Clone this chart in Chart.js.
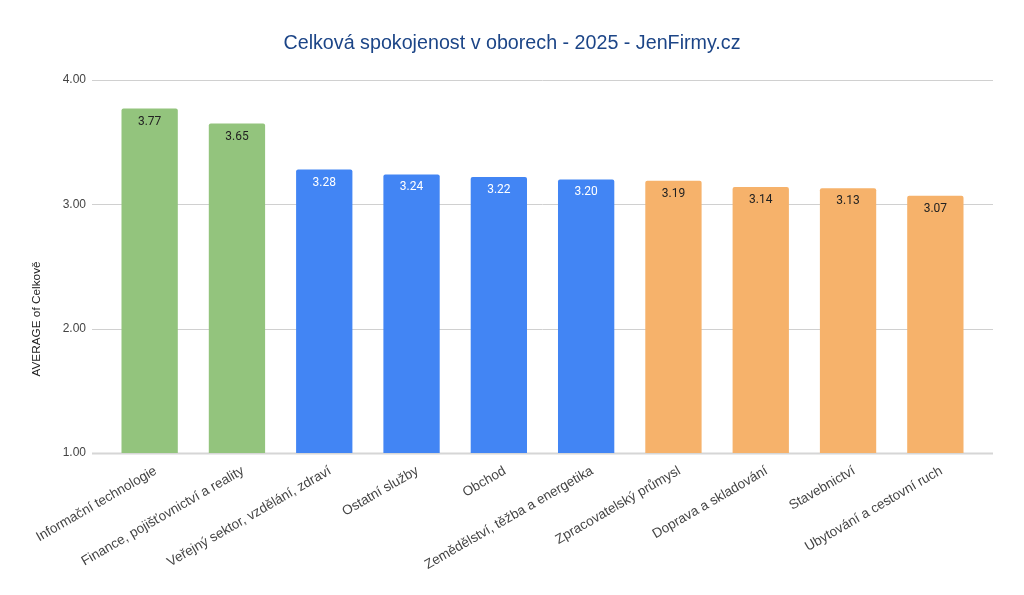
<!DOCTYPE html>
<html>
<head>
<meta charset="utf-8">
<script src="https://cdn.jsdelivr.net/npm/chart.js@4/dist/chart.umd.min.js"></script>
<style>
  html, body { margin: 0; padding: 0; background: #fff; }
  #wrap { width: 1024px; height: 595px; position: relative; }
</style>
</head>
<body>
<div id="wrap"><canvas id="chart"></canvas></div>
<script>
const titleText = 'Celková spokojenost v oborech - 2025 - JenFirmy.cz';
const yAxisTitle = 'AVERAGE of Celkově';

const categories = [
  'Informační technologie',
  'Finance, pojišťovnictví a reality',
  'Veřejný sektor, vzdělání, zdraví',
  'Ostatní služby',
  'Obchod',
  'Zemědělství, těžba a energetika',
  'Zpracovatelský průmysl',
  'Doprava a skladování',
  'Stavebnictví',
  'Ubytování a cestovní ruch',
];
const averages = [3.77, 3.65, 3.28, 3.24, 3.22, 3.20, 3.19, 3.14, 3.13, 3.07];
// group of each industry -> colour
const groups = ['top', 'top', 'mid', 'mid', 'mid', 'mid', 'low', 'low', 'low', 'low'];
const yTicks = [1, 2, 3, 4];

const GROUP_COLOURS = { top: '#93c47d', mid: '#4285f4', low: '#f6b26b' };
const LABEL_COLOURS = { top: '#222222', mid: '#ffffff', low: '#222222' };

// horizontal grid lines that run a bit past the category area, like Sheets does
const gridPlugin = {
  id: 'wideGrid',
  beforeDatasetsDraw(chart) {
    const { ctx, chartArea, scales } = chart;
    ctx.save();
    yTicks.forEach((t) => {
      const y = Math.round(scales.y.getPixelForValue(t)) + 0.5;
      ctx.strokeStyle = t === yTicks[0] ? '#d6d6d6' : '#d0d0d0';
      ctx.lineWidth = t === yTicks[0] ? 2 : 1;
      ctx.beginPath();
      ctx.moveTo(chartArea.left - 14, y);
      ctx.lineTo(chartArea.right + 14, y);
      ctx.stroke();
    });
    ctx.restore();
  },
};

// chart title (centred on the whole canvas) and the y axis title
const titles = {
  id: 'titles',
  afterDraw(chart) {
    const { ctx, width } = chart;
    ctx.save();
    ctx.font = '19.7px "Liberation Sans"';
    ctx.fillStyle = '#1c4587';
    ctx.textAlign = 'center';
    ctx.textBaseline = 'middle';
    ctx.fillText(titleText, width / 2, 44);

    ctx.translate(37, 319);
    ctx.rotate(-Math.PI / 2);
    ctx.font = '11.8px "Liberation Sans"';
    ctx.fillStyle = '#222222';
    ctx.fillText(yAxisTitle, 0, 0);
    ctx.restore();
  },
};

// value labels inside the top of every bar
const valueLabels = {
  id: 'valueLabels',
  afterDatasetsDraw(chart) {
    const { ctx } = chart;
    const meta = chart.getDatasetMeta(0);
    ctx.save();
    ctx.font = '12px Roboto';
    ctx.textAlign = 'center';
    ctx.textBaseline = 'middle';
    meta.data.forEach((bar, i) => {
      ctx.fillStyle = LABEL_COLOURS[groups[i]];
      ctx.fillText(averages[i].toFixed(2), bar.x, bar.y + 13);
    });
    ctx.restore();
  },
};

new Chart(document.getElementById('chart'), {
  type: 'bar',
  data: {
    labels: categories,
    datasets: [
      {
        label: yAxisTitle,
        data: averages,
        backgroundColor: groups.map((g) => GROUP_COLOURS[g]),
        borderRadius: { topLeft: 2, topRight: 2 },
        borderSkipped: 'bottom',
        categoryPercentage: 1,
        barPercentage: 0.645,
      },
    ],
  },
  options: {
    responsive: true,
    maintainAspectRatio: false,
    animation: false,
    layout: { padding: { left: 0, right: 45, top: 80, bottom: 0 } },
    plugins: {
      legend: { display: false },
      tooltip: { enabled: false },
      title: { display: false },
    },
    scales: {
      x: {
        offset: true,
        grid: { display: false },
        border: { display: false },
        ticks: {
          color: '#444444',
          font: { family: 'Liberation Sans', size: 13.5 },
          minRotation: 30,
          maxRotation: 30,
          autoSkip: false,
          padding: 2,
          labelOffset: 6,
        },
        afterFit(scale) { scale.height = 142; },
      },
      y: {
        min: 1,
        max: 4,
        grid: { display: false, drawTicks: false },
        border: { display: false },
        ticks: {
          stepSize: 1,
          color: '#444444',
          font: { family: 'Liberation Sans', size: 12 },
          padding: 20,
          callback: (v) => v.toFixed(2),
        },
        afterFit(scale) { scale.width = 106; },
      },
    },
  },
  plugins: [gridPlugin, valueLabels, titles],
});
</script>
</body>
</html>
